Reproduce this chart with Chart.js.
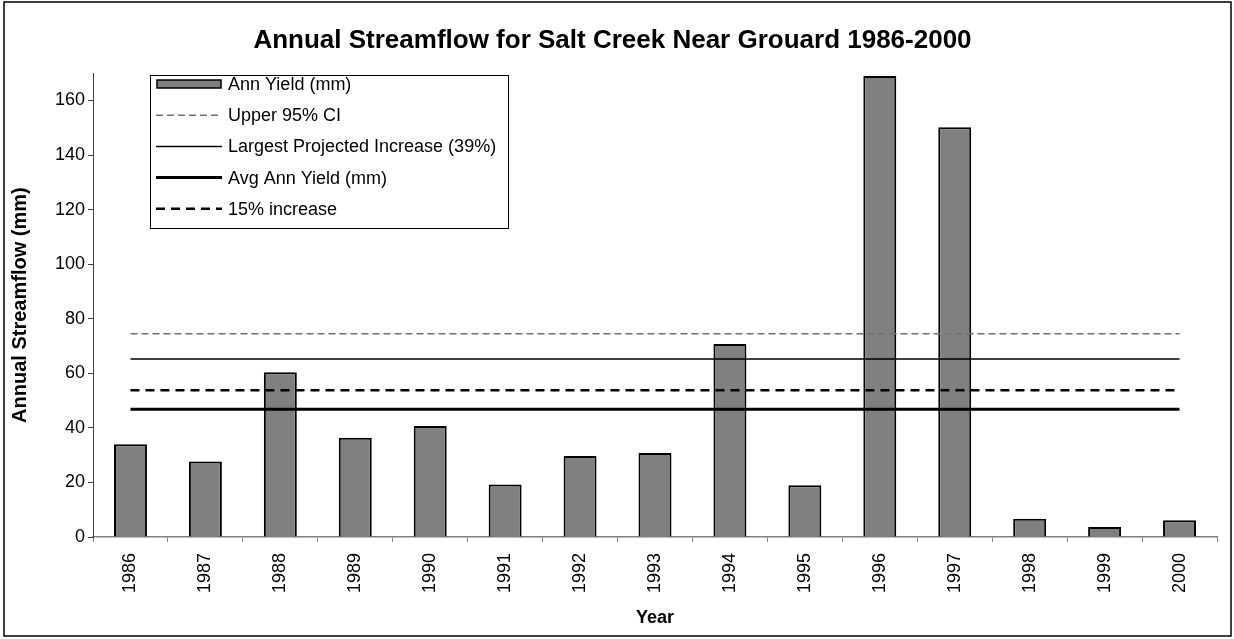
<!DOCTYPE html>
<html>
<head>
<meta charset="utf-8">
<script src="https://cdn.jsdelivr.net/npm/chart.js@4/dist/chart.umd.min.js"></script>
<style>
  html, body { margin: 0; padding: 0; background: #fff; }
  #wrap { width: 1234px; height: 639px; }
</style>
</head>
<body>
<div id="wrap"><canvas id="streamflow"></canvas></div>
<script>
const years = ["1986", "1987", "1988", "1989", "1990", "1991", "1992", "1993",
  "1994", "1995", "1996", "1997", "1998", "1999", "2000"];
const annYield = [34.0, 27.7, 60.4, 36.4, 40.7, 19.2, 29.7, 30.8, 70.7, 19.0, 169.0, 150.2, 6.7, 3.7, 6.1];
const upperCI = 74.5;
const largestIncrease = 65.2;
const avgYield = 46.8;
const increase15 = 53.8;
const yTicks = [0, 20, 40, 60, 80, 100, 120, 140, 160];

const FONT = "Arial, 'Liberation Sans', sans-serif";

function flat(v) {
  return years.map(function () { return v; });
}

// legend drawn inside the plot, boxed like the original
const boxLegend = {
  id: "boxLegend",
  afterDraw(chart) {
    const c = chart.ctx;
    const x = 150, y = 75, w = 358, h = 153;
    c.save();
    c.fillStyle = "#fff";
    c.fillRect(x, y, w, h);
    c.strokeStyle = "#000";
    c.lineWidth = 1;
    c.strokeRect(x + 0.5, y + 0.5, w, h);
    c.font = "18px " + FONT;
    c.textBaseline = "middle";
    chart.data.datasets.forEach(function (ds, i) {
      const ry = 84 + i * 31.2;
      if (ds.type === "line") {
        c.beginPath();
        c.strokeStyle = ds.borderColor;
        c.lineWidth = ds.borderWidth;
        c.setLineDash(ds.borderDash || []);
        c.moveTo(156, ry);
        c.lineTo(222, ry);
        c.stroke();
        c.setLineDash([]);
      } else {
        c.fillStyle = ds.backgroundColor;
        c.fillRect(157, ry - 4, 64, 8);
        c.strokeStyle = "#000";
        c.lineWidth = 1.5;
        c.strokeRect(157, ry - 4, 64, 8);
      }
      c.fillStyle = "#000";
      c.fillText(ds.label, 228, ry + 1);
    });
    // chart area frame
    c.strokeStyle = "#000";
    c.lineWidth = 1.5;
    c.strokeRect(4, 2, 1227, 634);
    c.restore();
  }
};

const ctx = document.getElementById("streamflow").getContext("2d");
const streamflow = new Chart(ctx, {
  type: "bar",
  data: {
    labels: years,
    datasets: [
      {
        label: "Ann Yield (mm)",
        data: annYield,
        backgroundColor: "#808080",
        borderColor: "#000",
        borderWidth: 2,
        barPercentage: 0.44,
        categoryPercentage: 1,
        order: 2,
      },
      {
        type: "line",
        label: "Upper 95% CI",
        data: flat(upperCI),
        borderColor: "#707070",
        borderWidth: 1.5,
        borderDash: [7, 4],
        pointRadius: 0,
        order: 1,
      },
      {
        type: "line",
        label: "Largest Projected Increase (39%)",
        data: flat(largestIncrease),
        borderColor: "#000",
        borderWidth: 1.5,
        pointRadius: 0,
        order: 1,
      },
      {
        type: "line",
        label: "Avg Ann Yield (mm)",
        data: flat(avgYield),
        borderColor: "#000",
        borderWidth: 3,
        pointRadius: 0,
        order: 1,
      },
      {
        type: "line",
        label: "15% increase",
        data: flat(increase15),
        borderColor: "#000",
        borderWidth: 2.5,
        borderDash: [9, 6],
        pointRadius: 0,
        order: 1,
      },
    ],
  },
  options: {
    responsive: true,
    maintainAspectRatio: false,
    animation: false,
    layout: { padding: { left: 8, right: 17, top: 0, bottom: 10 } },
    plugins: {
      legend: { display: false },
      tooltip: { enabled: false },
      title: {
        display: true,
        text: "Annual Streamflow for Salt Creek Near Grouard 1986-2000",
        color: "#000",
        font: { family: FONT, size: 26, weight: "bold" },
        padding: { top: 25, bottom: 17 },
      },
    },
    scales: {
      x: {
        grid: { drawOnChartArea: false, tickLength: 5, color: "#808080", offset: true },
        border: { color: "#808080", width: 1.5 },
        ticks: {
          color: "#000",
          font: { family: FONT, size: 18 },
          minRotation: 90,
          maxRotation: 90,
          padding: 11,
        },
        title: {
          display: true,
          text: "Year",
          color: "#000",
          font: { family: FONT, size: 18, weight: "bold" },
          padding: 0,
        },
        afterFit(scale) { scale.height = 92; },
      },
      y: {
        min: 0,
        max: 170,
        grid: { drawOnChartArea: false, tickLength: 5, color: "#404040" },
        border: { color: "#404040", width: 1 },
        afterBuildTicks(scale) {
          scale.ticks = yTicks.map(function (v) { return { value: v }; });
        },
        ticks: {
          color: "#000",
          font: { family: FONT, size: 18 },
          padding: 3,
        },
        title: {
          display: true,
          text: "Annual Streamflow (mm)",
          color: "#000",
          font: { family: FONT, size: 20, weight: "bold" },
          padding: 0,
        },
        afterFit(scale) { scale.width = 85; },
      },
    },
  },
  plugins: [boxLegend],
});
</script>
</body>
</html>
